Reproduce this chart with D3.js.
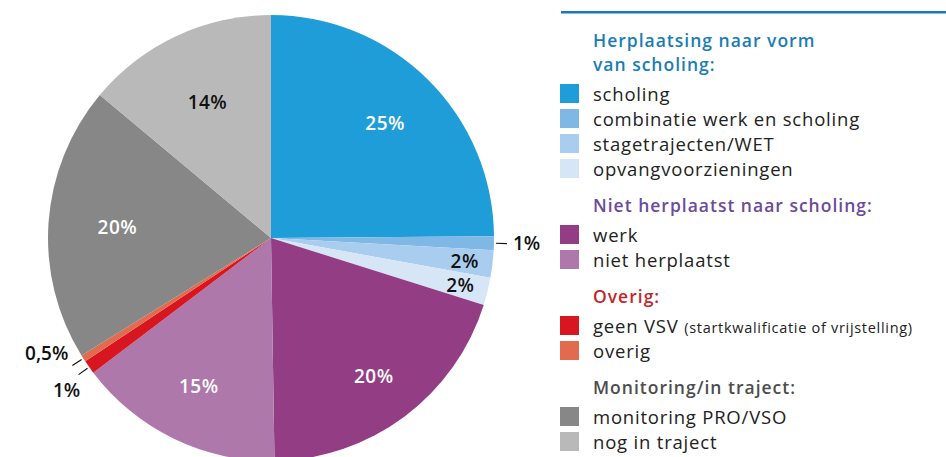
<!DOCTYPE html>
<html>
<head>
<meta charset="utf-8">
<script src="https://cdn.jsdelivr.net/npm/d3@7"></script>
<style>
  html, body { margin: 0; padding: 0; background: #fff; }
  svg { display: block; font-family: "Open Sans", sans-serif; }
</style>
</head>
<body>
<div id="chart"></div>
<script>
  // slices, clockwise from 12 o'clock
  let categories = ['scholing', 'combinatie werk en scholing', 'stagetrajecten/WET', 'opvangvoorzieningen',
    'werk', 'niet herplaatst', 'geen VSV', 'overig', 'monitoring PRO/VSO', 'nog in traject'];
  let values = [25, 1, 2, 2, 20, 15, 1, 0.5, 20, 14];
  let percentLabels = ['25%', '1%', '2%', '2%', '20%', '15%', '1%', '0,5%', '20%', '14%'];
  let colors = ['#1e9dd8', '#7fb8e4', '#a9cdef', '#d6e6f6', '#933d85', '#ae78aa', '#d7161f', '#e26a4f', '#878787', '#b9b9b9'];

  // legend groups
  let groupTitles = [['Herplaatsing naar vorm', 'van scholing:'], ['Niet herplaatst naar scholing:'], ['Overig:'], ['Monitoring/in traject:']];
  let groupColors = ['#1a7db6', '#6b4b9b', '#c1272d', '#4d4d4d'];
  let groupItems = [[0, 1, 2, 3], [4, 5], [6, 7], [8, 9]];

  let width = 946;
  let height = 457;
  let cx = 271, cy = 238, radius = 223;

  let svg = d3.select('#chart').append('svg')
    .attr('width', width)
    .attr('height', height);

  let data = categories.map((c, i) => ({ name: c, value: values[i], label: percentLabels[i], color: colors[i], i: i }));

  let pie = d3.pie().sort(null).value((d) => d.value);
  let arc = d3.arc().innerRadius(0).outerRadius(radius);
  let arcs = pie(data);

  let g = svg.append('g').attr('transform', `translate(${cx},${cy})`);

  g.selectAll('.slice')
    .data(arcs)
    .enter().append('path')
    .attr('class', 'slice')
    .attr('d', arc)
    .attr('fill', (d) => d.data.color);

  // inside labels: white on the dark slices, black on the light ones
  let dark = [0, 4, 5, 8];
  let insideR = { 0: 162, 2: 195, 3: 195, 4: 172, 5: 165, 8: 154, 9: 150 };
  let polar = (a, r) => [Math.sin(a) * r, -Math.cos(a) * r];

  arcs.forEach((d) => {
    let i = d.data.i;
    let mid = (d.startAngle + d.endAngle) / 2;
    if (insideR[i] !== undefined) {
      let p = polar(mid, insideR[i]);
      g.append('text')
        .attr('x', p[0]).attr('y', p[1])
        .attr('dy', '0.36em')
        .attr('text-anchor', 'middle')
        .attr('font-size', 19)
        .attr('letter-spacing', 0.5)
        .attr('font-weight', 600)
        .attr('fill', dark.includes(i) ? '#fff' : '#111')
        .text(d.data.label);
    } else {
      // small slices: leader line plus outside label
      let p1 = polar(mid, radius + 2);
      let p2 = polar(mid, radius + 13);
      g.append('line')
        .attr('x1', p1[0]).attr('y1', p1[1])
        .attr('x2', p2[0]).attr('y2', p2[1])
        .attr('stroke', '#111').attr('stroke-width', 1.2);
      let t = g.append('text')
        .attr('font-size', 19)
        .attr('font-weight', 600)
        .attr('fill', '#111')
        .text(d.data.label);
      if (i === 1) {
        t.attr('x', p2[0] + 6).attr('y', p2[1]).attr('dy', '0.36em').attr('text-anchor', 'start');
      } else if (i === 7) {
        t.attr('x', p2[0] - 4).attr('y', p2[1] - 5).attr('text-anchor', 'end');
      } else {
        t.attr('x', p2[0] - 12).attr('y', p2[1] + 22).attr('text-anchor', 'middle');
      }
    }
  });

  // legend
  let legend = svg.append('g');
  legend.append('rect')
    .attr('x', 561).attr('y', 11)
    .attr('width', width - 561).attr('height', 2.5)
    .attr('fill', '#1a7ab4');

  let lx = 593, swX = 560, sw = 19;
  let y = 47;
  groupTitles.forEach((lines, gi) => {
    lines.forEach((line, li) => {
      if (li > 0) y += 24;
      legend.append('text')
        .attr('x', lx).attr('y', y)
        .attr('font-size', 17.5)
        .attr('font-weight', 600)
        .attr('letter-spacing', 1)
        .attr('fill', groupColors[gi])
        .text(line);
    });
    y += 30;
    groupItems[gi].forEach((idx, k) => {
      if (k > 0) y += 25;
      legend.append('rect')
        .attr('x', swX).attr('y', y - 17)
        .attr('width', sw).attr('height', sw)
        .attr('fill', colors[idx]);
      let t = legend.append('text')
        .attr('x', lx).attr('y', y)
        .attr('font-size', 18.5)
        .attr('letter-spacing', 0.8)
        .attr('fill', '#222')
        .text(idx === 6 ? 'geen VSV ' : categories[idx]);
      if (idx === 6) {
        t.append('tspan').attr('font-size', 14.5).attr('letter-spacing', 0.7).text('(startkwalificatie of vrijstelling)');
      }
    });
    y += 36;
  });
</script>
</body>
</html>
